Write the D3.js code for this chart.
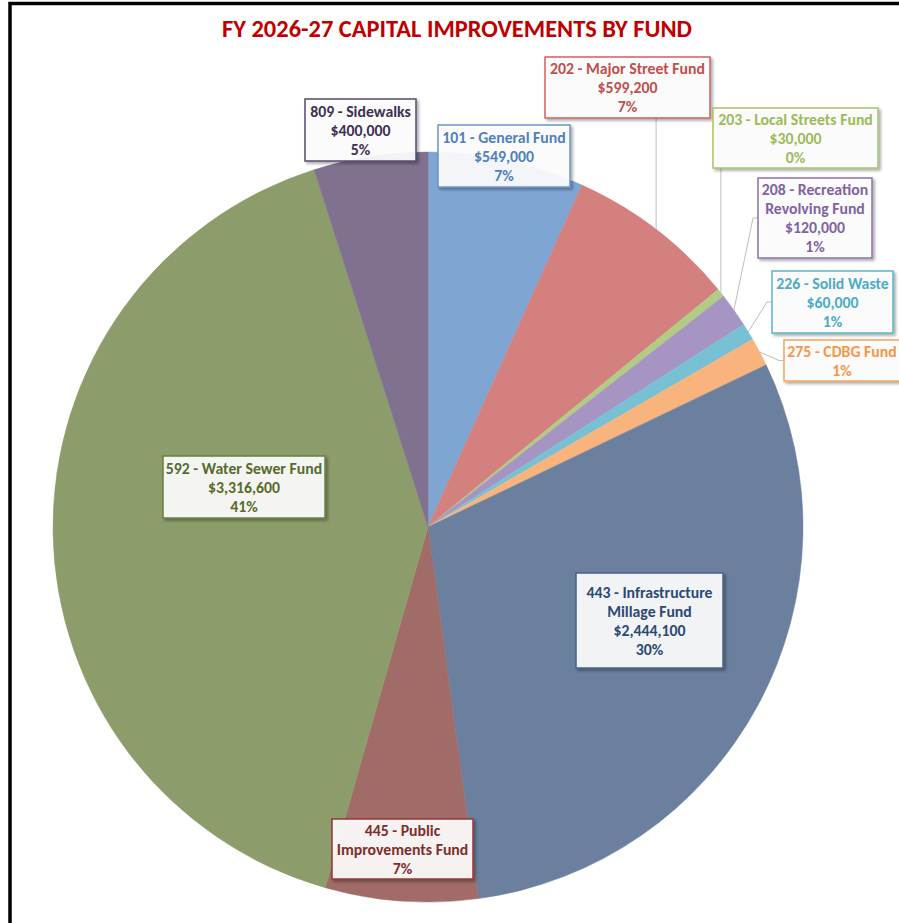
<!DOCTYPE html>
<html>
<head>
<meta charset="utf-8">
<script src="https://cdn.jsdelivr.net/npm/d3@7"></script>
<style>
  html, body { margin: 0; padding: 0; background: #fff; }
  svg { display: block; }
  text { font-family: Carlito, Calibri, Lato, "Open Sans", sans-serif; font-weight: bold; }
</style>
</head>
<body>
<svg id="chart" width="899" height="923"></svg>
<script>
// ---- data ----
const title = "FY 2026-27 CAPITAL IMPROVEMENTS BY FUND";
const categories = [
  "101 - General Fund",
  "202 - Major Street Fund",
  "203 - Local Streets Fund",
  "208 - Recreation Revolving Fund",
  "226 - Solid Waste",
  "275 - CDBG Fund",
  "443 - Infrastructure Millage Fund",
  "445 - Public Improvements Fund",
  "592 - Water Sewer Fund",
  "809 - Sidewalks"
];
const values = [549000, 599200, 30000, 120000, 60000, 100000, 2444100, 535000, 3316600, 400000];
// label name lines (line breaks as displayed)
const labelNames = [
  ["101 - General Fund"],
  ["202 - Major Street Fund"],
  ["203 - Local Streets Fund"],
  ["208 - Recreation", "Revolving Fund"],
  ["226 - Solid Waste"],
  ["275 - CDBG Fund"],
  ["443 - Infrastructure", "Millage Fund"],
  ["445 - Public", "Improvements Fund"],
  ["592 - Water Sewer Fund"],
  ["809 - Sidewalks"]
];
const showValue = [true, true, true, true, true, false, true, false, true, true];

// ---- styles / layout ----
const sliceColors = ["#7FA5D3", "#D4807E", "#B3CC83", "#A694C3", "#78C1D5", "#F9B47E", "#6A809E", "#A16B67", "#8C9D6B", "#817191"];
const textColors  = ["#4F81BD", "#C0504D", "#9BBB59", "#8064A2", "#4BACC6", "#F79646", "#2B4A73", "#7E2F2C", "#566B2C", "#3F3151"];
const borderColors= ["#6A95CA", "#D0625F", "#A6C46A", "#8C72AC", "#5BB5CD", "#F8A25C", "#4A6385", "#8E3B38", "#6C7F3E", "#5A4A6E"];
// box layout: [left, top, width, height]
const boxes = [
  [438, 125, 132, 62],
  [545, 57, 165, 61],
  [713, 108, 165, 60],
  [758, 178, 114, 80],
  [772, 271, 121, 62],
  [784, 340, 125, 41],
  [576, 573, 147, 95],
  [332, 819, 141, 60],
  [163, 456, 162, 62],
  [305, 99, 111, 62]
];
// text centre x override (null = box centre)
const textCenters = [null, null, null, null, null, 842, null, null, null, null];
// leader type: null = none, "v" = vertical from box bottom, "h" = elbow to box left
const leaders = [null, "v", "v", "h", "h", "h", null, null, null, null];

const svg = d3.select("#chart");
const W = 899, H = 923;
const cx = 428, cy = 527, R = 375;

const defs = svg.append("defs");
const f = defs.append("filter").attr("id", "shadow").attr("x", "-20%").attr("y", "-20%").attr("width", "150%").attr("height", "150%");
f.append("feDropShadow").attr("dx", 2).attr("dy", 2).attr("stdDeviation", 1.6)
  .attr("flood-color", "#000").attr("flood-opacity", 0.35);

// frame
svg.append("path").attr("d", `M10,${H} L10,3.5 L${W},3.5`)
  .attr("fill", "none").attr("stroke", "#000").attr("stroke-width", 3.5);

// title
const titleText = svg.append("text")
  .attr("x", 457).attr("y", 37)
  .attr("text-anchor", "middle")
  .attr("fill", "#C00000")
  .style("font-size", "23px")
  .text(title);
const tw = titleText.node().getComputedTextLength();
titleText.style("font-size", (23 * Math.min(1.1, 470 / tw)) + "px");

// label font size fitted so that the reference line width is matched
const probe = svg.append("text").style("font-size", "16px").text("202 - Major Street Fund");
const pw = probe.node().getComputedTextLength();
probe.remove();
const fs = 16 * Math.min(1.1, 155 / pw);

const total = d3.sum(values);
const fmtMoney = v => "$" + d3.format(",")(v);
const fmtPct = v => Math.round(v / total * 100) + "%";

const pie = d3.pie().sort(null).value(d => d)(values);
const arc = d3.arc().innerRadius(0).outerRadius(R);

const g = svg.append("g").attr("transform", `translate(${cx},${cy})`);
g.selectAll("path.slice").data(pie).join("path")
  .attr("class", "slice")
  .attr("d", arc)
  .attr("fill", (d, i) => sliceColors[i])
  .attr("stroke", (d, i) => sliceColors[i])
  .attr("stroke-width", 0.5);

// leader lines
pie.forEach((d, i) => {
  if (!leaders[i]) return;
  const a = (d.startAngle + d.endAngle) / 2;
  const px = cx + R * Math.sin(a), py = cy - R * Math.cos(a);
  const [bx, by, bw, bh] = boxes[i];
  let pts;
  if (leaders[i] === "v") {
    pts = [[px, py], [px, by + bh]];
  } else {
    const my = by + bh / 2;
    pts = [[px, py], [bx - 5, my], [bx, my]];
  }
  svg.append("path").attr("d", d3.line()(pts))
    .attr("fill", "none").attr("stroke", "#BFBFBF").attr("stroke-width", 1);
});

// label boxes
const lh = 19;
pie.forEach((d, i) => {
  const [bx, by, bw, bh] = boxes[i];
  const lines = labelNames[i].slice();
  if (showValue[i]) lines.push(fmtMoney(values[i]));
  lines.push(fmtPct(values[i]));
  const lg = svg.append("g");
  lg.append("rect")
    .attr("x", bx).attr("y", by).attr("width", bw).attr("height", bh)
    .attr("fill", "#FFFFFF").attr("fill-opacity", 0.9)
    .attr("stroke", borderColors[i]).attr("stroke-width", 1.5)
    .attr("filter", "url(#shadow)");
  const ccx = textCenters[i] != null ? textCenters[i] : bx + bw / 2;
  const ccy = by + bh / 2;
  const first = ccy - (lines.length - 1) * lh / 2 + 5.5;
  lines.forEach((t, k) => {
    lg.append("text")
      .attr("x", ccx).attr("y", first + k * lh)
      .attr("text-anchor", "middle")
      .attr("fill", textColors[i])
      .style("font-size", fs + "px")
      .text(t);
  });
});
</script>
</body>
</html>
